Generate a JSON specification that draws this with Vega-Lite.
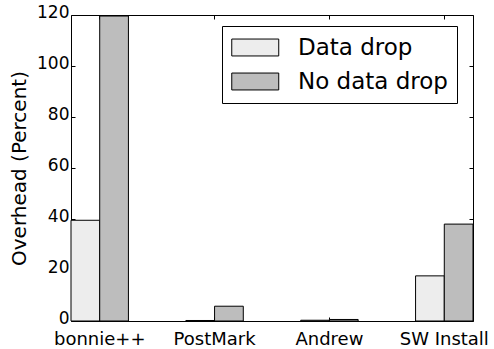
{
  "$schema": "https://vega.github.io/schema/vega-lite/v6.json",
  "width": 402,
  "height": 306,
  "autosize": {"type": "none"},
  "padding": {"left": 71, "top": 15, "right": 21, "bottom": 28},
  "background": "white",
  "config": {
    "font": "DejaVu Sans",
    "view": {"stroke": "black", "strokeWidth": 1},
    "axis": {
      "domain": false,
      "grid": false,
      "tickColor": "black",
      "tickSize": -4,
      "tickWidth": 1,
      "labelColor": "black",
      "labelFont": "DejaVu Sans",
      "labelFontSize": 18,
      "titleFont": "DejaVu Sans",
      "titleFontWeight": "normal",
      "titleColor": "black"
    }
  },
  "data": {
    "values": [
      {"bench": "bonnie++", "series": "Data drop", "overhead": 39.5},
      {"bench": "bonnie++", "series": "No data drop", "overhead": 119.6},
      {"bench": "PostMark", "series": "Data drop", "overhead": 0.2},
      {"bench": "PostMark", "series": "No data drop", "overhead": 5.8},
      {"bench": "Andrew", "series": "Data drop", "overhead": 0.3},
      {"bench": "Andrew", "series": "No data drop", "overhead": 0.6},
      {"bench": "SW Install", "series": "Data drop", "overhead": 17.7},
      {"bench": "SW Install", "series": "No data drop", "overhead": 38.0}
    ]
  },
  "layer": [
    {
      "mark": {"type": "bar", "stroke": "black", "strokeWidth": 1, "strokeOpacity": 1, "opacity": 1},
      "encoding": {
        "x": {
          "field": "bench",
          "type": "nominal",
          "sort": ["bonnie++", "PostMark", "Andrew", "SW Install"],
          "scale": {"paddingInner": 0.5, "paddingOuter": 0, "align": 0},
          "axis": {
            "orient": "bottom",
            "title": null,
            "labelAngle": 0,
            "labelPadding": 13
          }
        },
        "xOffset": {
          "field": "series",
          "type": "nominal",
          "sort": ["Data drop", "No data drop"],
          "scale": {"paddingInner": 0, "paddingOuter": 0}
        },
        "y": {
          "field": "overhead",
          "type": "quantitative",
          "scale": {"domain": [0, 120], "nice": false, "zero": true},
          "axis": {
            "orient": "left",
            "title": "Overhead (Percent)",
            "titleFontSize": 20,
            "titlePadding": 7,
            "values": [0, 20, 40, 60, 80, 100, 120],
            "labelFontSize": 17,
            "labelPadding": 6,
            "labelOffset": -3
          }
        },
        "fill": {
          "field": "series",
          "type": "nominal",
          "sort": ["Data drop", "No data drop"],
          "scale": {"domain": ["Data drop", "No data drop"], "range": ["#ededed", "#bdbdbd"]},
          "legend": {
            "title": null,
            "orient": "none",
            "legendX": 151,
            "legendY": 11,
            "strokeColor": "black",
            "fillColor": "white",
            "cornerRadius": 0,
            "padding": 9,
            "symbolType": "M-1,-0.72H3V0.72H-1Z",
            "symbolSize": 552,
            "symbolStrokeColor": "black",
            "symbolStrokeWidth": 1,
            "symbolOpacity": 1,
            "labelFont": "DejaVu Sans",
            "labelFontSize": 23,
            "labelColor": "black",
            "labelOffset": 42,
            "rowPadding": 9,
            "labelLimit": 300
          }
        }
      }
    },
    {
      "mark": {"type": "rule", "opacity": 0},
      "encoding": {
        "x": {
          "field": "bench",
          "type": "nominal",
          "sort": ["bonnie++", "PostMark", "Andrew", "SW Install"],
          "axis": {"orient": "top", "title": null, "labels": false, "domain": false}
        },
        "y": {
          "field": "overhead",
          "type": "quantitative",
          "axis": {
            "orient": "right",
            "title": null,
            "labels": false,
            "values": [0, 20, 40, 60, 80, 100, 120]
          }
        }
      }
    }
  ],
  "resolve": {"axis": {"x": "independent", "y": "independent"}}
}
